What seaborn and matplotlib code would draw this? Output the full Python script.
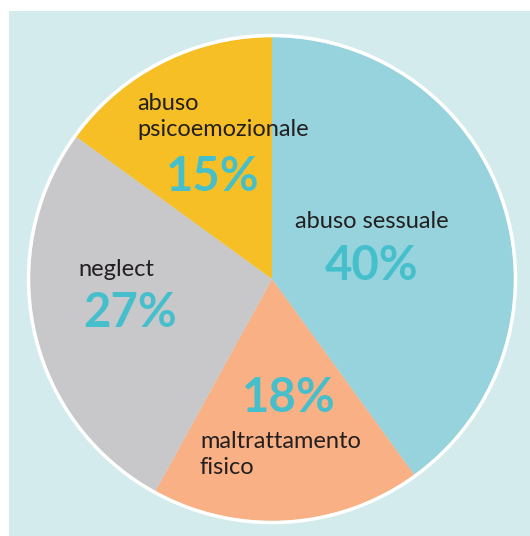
import matplotlib
matplotlib.use("Agg")
import matplotlib.pyplot as plt
import seaborn as sns
from matplotlib.patches import Rectangle, Circle

categories = ["abuso sessuale", "maltrattamento fisico", "neglect", "abuso psicoemozionale"]
values = [40, 18, 27, 15]
pct_labels = ["40%", "18%", "27%", "15%"]
colors = ["#96d3dc", "#f8b084", "#c8c8ca", "#f6bf26"]

sns.set_style("white")
plt.rcParams['font.family'] = ['Lato', 'DejaVu Sans']

W, H = 530, 536
fig = plt.figure(figsize=(W / 100, H / 100), dpi=100)
ax = fig.add_axes([0, 0, 1, 1])

def Y(y):
    return H - y

ax.add_patch(Rectangle((9, 0), W - 9, H - 11, facecolor="#d3ebec", edgecolor="none", zorder=0))

palette = sns.color_palette(colors)
wedges, _ = ax.pie(values, colors=palette, startangle=90, counterclock=False,
                   center=(272, Y(279)), radius=242, frame=True,
                   wedgeprops=dict(linewidth=0, edgecolor="none"))
ax.add_patch(Circle((272, Y(279)), 243.5, facecolor="none", edgecolor="white", linewidth=2.5, zorder=5))
ax.set_xlim(0, W)
ax.set_ylim(0, H)
ax.set_aspect("equal")
ax.axis("off")

dark = "#231f20"
teal = "#45bfcb"
lab_fs = 17
pct_fs = 34

# abuso psicoemozionale
ax.text(137, Y(103), "abuso", fontsize=lab_fs, color=dark, ha="left", va="center")
ax.text(137, Y(130), "psicoemozionale", fontsize=lab_fs, color=dark, ha="left", va="center")
ax.text(213, Y(177), pct_labels[3], fontsize=pct_fs, color=teal, fontweight="bold", ha="center", va="center")

# abuso sessuale
ax.text(295, Y(221), "abuso sessuale", fontsize=lab_fs, color=dark, ha="left", va="center")
ax.text(372, Y(266), pct_labels[0], fontsize=pct_fs, color=teal, fontweight="bold", ha="center", va="center")

# neglect
ax.text(78, Y(270), "neglect", fontsize=lab_fs, color=dark, ha="left", va="center")
ax.text(130, Y(313), pct_labels[2], fontsize=pct_fs, color=teal, fontweight="bold", ha="center", va="center")

# maltrattamento fisico
ax.text(289, Y(398), pct_labels[1], fontsize=pct_fs, color=teal, fontweight="bold", ha="center", va="center")
ax.text(200, Y(441), "maltrattamento", fontsize=lab_fs, color=dark, ha="left", va="center")
ax.text(200, Y(467), "fisico", fontsize=lab_fs, color=dark, ha="left", va="center")

fig.savefig("out.png", dpi=100, facecolor="white")
